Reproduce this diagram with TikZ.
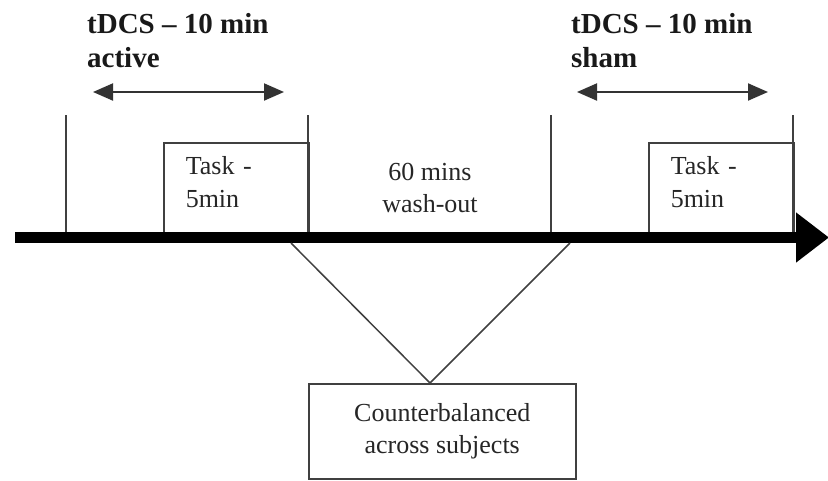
\documentclass[tikz,border=0pt]{standalone}
\usepackage{fontspec}
\setmainfont{Liberation Serif}
\usetikzlibrary{arrows.meta}
\begin{document}
\begin{tikzpicture}[x=1pt,y=-1pt,
  thinline/.style={draw=black!75,line width=1.5pt},
  taskbox/.style={draw=black!75,line width=1.5pt,anchor=north west,
    minimum width=145pt,minimum height=95pt,text width=101pt,inner xsep=22pt,
    inner ysep=0pt,align=left,font=\fontsize{26}{33}\selectfont,text=black!85},
  cbbox/.style={draw=black!75,line width=1.5pt,anchor=north west,
    minimum width=267pt,minimum height=95pt,inner sep=0pt,align=center,
    font=\fontsize{26}{32}\selectfont,text=black!85},
  head/.style={anchor=base west,inner sep=0pt,align=left,
    font=\fontsize{29}{34}\selectfont\bfseries,text=black!90},
  plain/.style={anchor=base,inner sep=0pt,align=center,
    font=\fontsize{26}{32}\selectfont,text=black!85},
  dimarrow/.style={draw=black!80,line width=2pt,
    {Triangle[length=20pt,width=17pt]}-{Triangle[length=20pt,width=17pt]}},
  axis/.style={draw=black,line width=11pt,-{Triangle[length=33pt,width=48pt]}}
]
\useasboundingbox (0,0) rectangle (828,480);
\fill[white] (0,0) rectangle (828,480);

% timeline
\coordinate (axL) at (15,237.5);
\coordinate (axR) at (829,237.5);

% task boxes
\node[taskbox] (task1) at (163,142) {Task -\\5min\rule[-16pt]{0pt}{16pt}};
\node[taskbox] (task2) at (648,142) {Task -\\5min\rule[-16pt]{0pt}{16pt}};

% vertical markers
\coordinate (v1t) at (66,115);   \coordinate (v1b) at (66,237);
\coordinate (v2t) at (308,115);  \coordinate (v2b) at (308,237);
\coordinate (v3t) at (551,115);  \coordinate (v3b) at (551,237);
\coordinate (v4t) at (793,115);  \coordinate (v4b) at (793,237);
\draw[thinline] (v1t) -- (v1b);
\draw[thinline] (v2t) -- (v2b);
\draw[thinline] (v3t) -- (v3b);
\draw[thinline] (v4t) -- (v4b);

\draw[axis] (axL) -- (axR);

% headings (base anchor = last line)
\node[head] (h1) at (87,67) {tDCS – 10 min\\active};
\node[head] (h2) at (571,67) {tDCS – 10 min\\sham};

% duration arrows
\coordinate (a1l) at (93,92);  \coordinate (a1r) at (284,92);
\coordinate (a2l) at (577,92); \coordinate (a2r) at (768,92);
\draw[dimarrow] (a1l) -- (a1r);
\draw[dimarrow] (a2l) -- (a2r);

% wash-out
\node[plain] (wash) at (430,212) {60 mins\\wash-out};

% counterbalanced
\node[cbbox] (cb) at (308,383) {Counterbalanced\\across subjects};
\coordinate (apex) at (430,383);
\coordinate (vL) at (291,243);
\coordinate (vR) at (570,243);
\draw[thinline] (vL) -- (apex) -- (vR);
\end{tikzpicture}
\end{document}
